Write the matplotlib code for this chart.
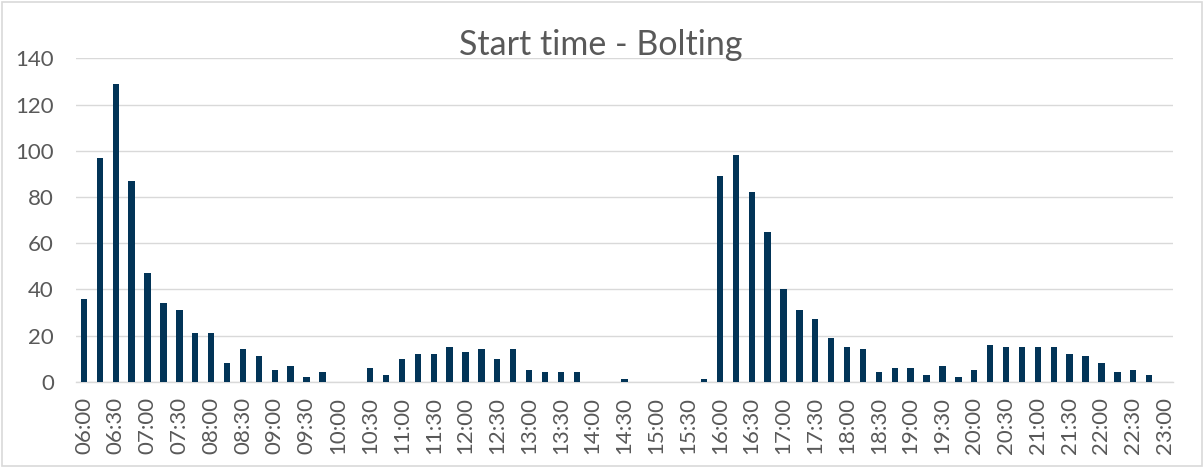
import matplotlib
matplotlib.use("Agg")
import matplotlib.pyplot as plt
from matplotlib.patches import Rectangle

# 15-minute start slots from 06:00 to 23:00
slots = [f"{h:02d}:{m:02d}" for h in range(6, 24) for m in (0, 15, 30, 45)][:69]

# number of bolting jobs starting in each slot
counts = [
    36, 97, 129, 87, 47, 34, 31, 21, 21, 8, 14, 11, 5, 7, 2, 4,   # 06:00-09:45
    0, 0, 6, 3,                                                   # 10:00-10:45
    10, 12, 12, 15, 13, 14, 10, 14, 5, 4, 4, 4,                   # 11:00-13:45
    0, 0, 1, 0, 0, 0, 0, 1,                                       # 14:00-15:45
    89, 98, 82, 65,                                               # 16:00-16:45
    40, 31, 27, 19, 15, 14, 4, 6, 6, 3, 7, 2,                     # 17:00-19:45
    5, 16, 15, 15, 15, 15, 12, 11, 8, 4, 5, 3,                    # 20:00-22:45
    0,                                                            # 23:00
]

title = "Start time - Bolting"
y_ticks = [0, 20, 40, 60, 80, 100, 120, 140]

plt.rcParams["font.family"] = ["Lato", "DejaVu Sans"]
text_color = "#595959"
grid_color = "#D9D9D9"
bar_color = "#023457"

W, H = 1204, 468
fig = plt.figure(figsize=(W / 100, H / 100), dpi=100)
ax = fig.add_axes([76 / W, (H - 381.7) / H, (1173 - 76) / W, (381.7 - 58.3) / H])

x = list(range(len(slots)))
ax.bar(x, counts, width=0.4, color=bar_color, zorder=3)

ax.set_xlim(-0.5, len(slots) - 0.5)
ax.set_ylim(0, 140)
ax.set_yticks(y_ticks)
ax.set_yticklabels([str(v) for v in y_ticks])
ax.set_xticks(x[::2])
ax.set_xticklabels(slots[::2], rotation=90)

ax.tick_params(axis="y", length=0, pad=16, labelsize=16, labelcolor=text_color)
ax.tick_params(axis="x", length=0, pad=11, labelsize=16, labelcolor=text_color)

ax.grid(axis="y", color=grid_color, linewidth=1.0, zorder=0)
for side in ("top", "right", "left"):
    ax.spines[side].set_visible(False)
ax.spines["bottom"].set_color(grid_color)
ax.spines["bottom"].set_linewidth(1.0)

fig.text(601 / W, (H - 45) / H, title, ha="center", va="center",
         fontsize=24.5, color=text_color)

# light frame around the chart area
fig.patches.append(Rectangle((2 / W, 2 / H), (W - 4) / W, (H - 4) / H,
                             transform=fig.transFigure, fill=False,
                             edgecolor=grid_color, linewidth=1.2))

fig.savefig("out.png", dpi=100, facecolor="white")
